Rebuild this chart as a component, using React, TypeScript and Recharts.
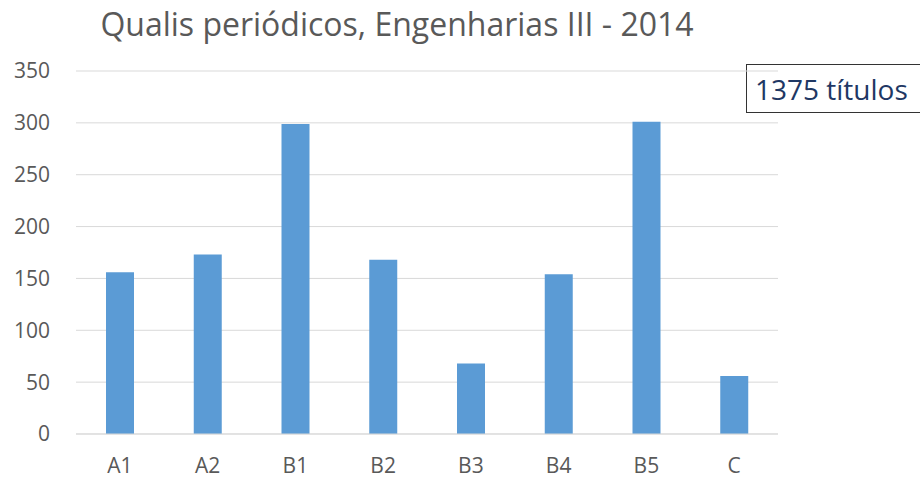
import { BarChart, Bar, XAxis, YAxis, CartesianGrid } from "recharts";

const categories = ["A1", "A2", "B1", "B2", "B3", "B4", "B5", "C"];
const counts = [156, 173, 299, 168, 68, 154, 301, 56];
const yTicks = [0, 50, 100, 150, 200, 250, 300, 350];

const data = categories.map((name, i) => ({ name, value: counts[i] }));

const font = "'Open Sans', sans-serif";

export default function App() {
  return (
    <div style={{ position: "absolute", left: 0, top: 0, width: 920, height: 479, background: "#fff", fontFamily: font }}>
      <div
        style={{
          position: "absolute",
          left: 0,
          width: 794,
          top: 2,
          textAlign: "center",
          fontSize: 32,
          color: "#595959",
          whiteSpace: "nowrap",
        }}
      >
        Qualis periódicos, Engenharias III - 2014
      </div>
      <div
        style={{
          position: "absolute",
          left: 746,
          top: 64,
          width: 180,
          height: 49,
          border: "1px solid #333",
          boxSizing: "border-box",
          fontSize: 28,
          color: "#1F3864",
          paddingLeft: 8,
          lineHeight: "48px",
          whiteSpace: "nowrap",
        }}
      >
        1375 títulos
      </div>
      <BarChart
        width={920}
        height={479}
        data={data}
        margin={{ top: 71, right: 142, bottom: 0, left: 0 }}
      >
        <CartesianGrid vertical={false} stroke="#d9d9d9" />
        <XAxis
          dataKey="name"
          height={45}
          axisLine={{ stroke: "#d9d9d9" }}
          tickLine={false}
          tickSize={0}
          tickMargin={24}
          tick={{ fill: "#595959", fontSize: 21, fontFamily: font }}
        />
        <YAxis
          width={76}
          domain={[0, 350]}
          ticks={yTicks}
          axisLine={false}
          tickLine={false}
          tickSize={0}
          tickMargin={26}
          tick={{ fill: "#595959", fontSize: 21, fontFamily: font }}
        />
        <Bar dataKey="value" fill="#5B9BD5" barSize={28} isAnimationActive={false} />
      </BarChart>
    </div>
  );
}
